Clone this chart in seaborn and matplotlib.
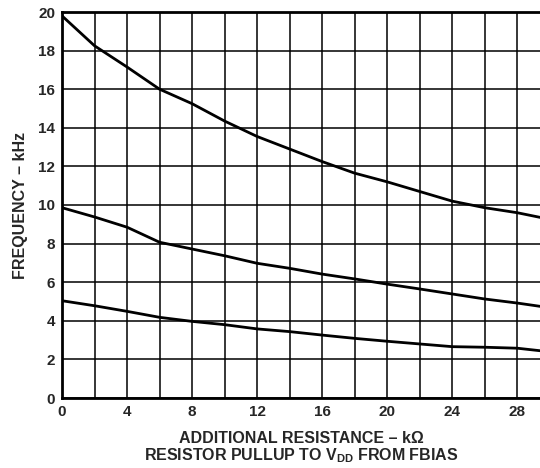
import numpy as np
import pandas as pd
import seaborn as sns
import matplotlib.pyplot as plt

# resistance values (k-ohm) and frequency readings (kHz) for the three curves
resistance = [0, 2, 4, 6, 8, 10, 12, 14, 16, 18, 20, 22, 24, 26, 28, 29.4]
freq_high = [19.8, 18.25, 17.15, 16.0, 15.25, 14.35, 13.55, 12.9, 12.25, 11.65, 11.2, 10.7, 10.2, 9.86, 9.6, 9.36]
freq_mid = [9.86, 9.38, 8.85, 8.07, 7.72, 7.37, 6.98, 6.72, 6.42, 6.17, 5.9, 5.65, 5.39, 5.13, 4.92, 4.75]
freq_low = [5.04, 4.78, 4.49, 4.18, 3.97, 3.8, 3.58, 3.44, 3.26, 3.09, 2.94, 2.8, 2.66, 2.63, 2.58, 2.45]

x_ticks = [0, 4, 8, 12, 16, 20, 24, 28]
y_ticks = [0, 2, 4, 6, 8, 10, 12, 14, 16, 18, 20]

sns.set_style("white")
plt.rcParams['font.family'] = ['Liberation Sans', 'DejaVu Sans']
plt.rcParams['font.weight'] = 'bold'
plt.rcParams['mathtext.fontset'] = 'custom'
plt.rcParams['mathtext.bf'] = 'Liberation Sans:bold'
plt.rcParams['mathtext.rm'] = 'Liberation Sans:bold'

fig = plt.figure(figsize=(5.4, 4.68), dpi=100)
ax = fig.add_axes([62 / 540, 1 - 398 / 468, 1 - 62 / 540, (398 - 12) / 468])

df = pd.DataFrame({'R': resistance, 'high': freq_high, 'mid': freq_mid, 'low': freq_low})
for col in ['high', 'mid', 'low']:
    sns.lineplot(data=df, x='R', y=col, ax=ax, color='black', linewidth=2.0)

ax.set_xlim(0, 29.4)
ax.set_ylim(0, 20)
ax.set_xticks(np.arange(0, 30, 2), minor=True)
ax.set_xticks(x_ticks)
ax.set_yticks(y_ticks)
ax.grid(True, which='both', axis='x', color='black', linewidth=1.1)
ax.grid(True, which='major', axis='y', color='black', linewidth=1.1)
ax.tick_params(which='both', length=0, labelsize=11, pad=5)
for lab in ax.get_xticklabels() + ax.get_yticklabels():
    lab.set_fontweight('bold')

for s in ['left', 'bottom', 'top']:
    ax.spines[s].set_color('black')
    ax.spines[s].set_linewidth(2.0)
ax.spines['right'].set_visible(False)

ax.set_xlabel("ADDITIONAL RESISTANCE – k\u03a9\nRESISTOR PULLUP TO V$_{\\mathbf{DD}}$ FROM FBIAS",
              fontsize=11.5, fontweight='bold', labelpad=9, linespacing=1.0)
ax.set_ylabel("FREQUENCY – kHz", fontsize=11.5, fontweight='bold', labelpad=7)

fig.savefig('out.png', dpi=100)
